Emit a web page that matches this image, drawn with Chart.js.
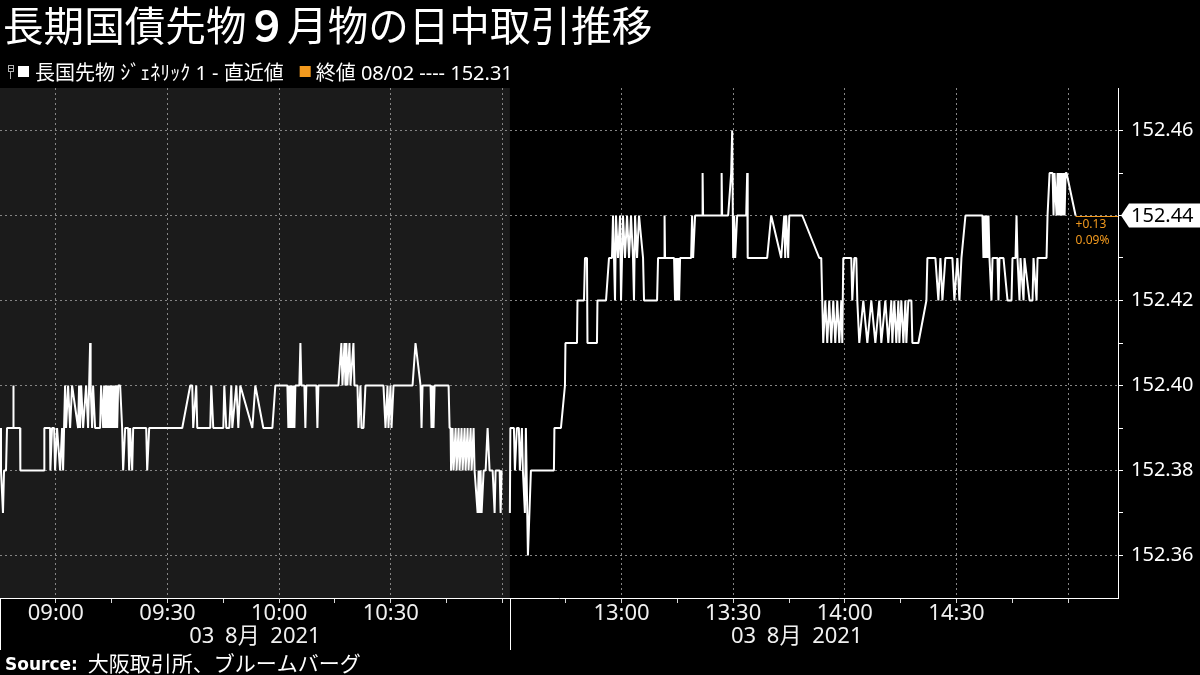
<!DOCTYPE html>
<html><head><meta charset="utf-8">
<script src="https://cdn.jsdelivr.net/npm/chart.js@4.4.1/dist/chart.umd.min.js"></script>
<style>html,body{margin:0;padding:0;background:#000;}#wrap{width:1200px;height:675px;}</style>
</head><body><div id="wrap"><canvas id="c" width="1200" height="675"></canvas></div>
<script>
// ---- text ----
const titleParts = ["長期国債先物", "９", "月物の日中取引推移"];
const seriesName = "長国先物 ｼﾞｪﾈﾘｯｸ 1 - 直近値";
const prevCloseLabel = "終値";
const prevCloseDate = "08/02";
const prevClose = 152.31;
const sessionDateLabel = "03 8月 2021";
const sourceBold = "Source:";
const sourceText = "大阪取引所、ブルームバーグ";

// ---- sessions ----
const amSession = ["08:45", "11:02"];
const pmSession = ["12:30", "15:02"];

// ---- x ticks ----
const majorTimes = ["09:00","09:30","10:00","10:30","11:00","13:00","13:30","14:00","14:30","15:00"];
const minorTimes = ["09:15","09:45","10:15","10:45","12:45","13:15","13:45","14:15","14:45"];
const labeledTimes = ["09:00","09:30","10:00","10:30","13:00","13:30","14:00","14:30"];

// ---- y ticks ----
const yTicks = [152.36,152.37,152.38,152.39,152.40,152.41,152.42,152.43,152.44,152.45,152.46];

// ---- morning session ticks ----
const amTimes = [
"08:45:00","08:45:16","08:45:48","08:46:05","08:46:37","08:46:53","08:48:30","08:48:35","08:48:40","08:50:23",
"08:50:28","08:56:50","08:56:55","08:58:27","08:58:32","08:58:59","08:59:32","08:59:48","09:00:20","09:01:09",
"09:01:41","09:01:57","09:02:29","09:02:45","09:03:18","09:03:50","09:04:22","09:05:59","09:06:15","09:06:31",
"09:06:48","09:07:20","09:08:08","09:08:40","09:08:57","09:09:13","09:09:21","09:09:45","09:10:01","09:10:33",
"09:11:54","09:12:10","09:12:43","09:12:59","09:13:15","09:13:31","09:13:47","09:14:03","09:14:19","09:14:36",
"09:14:52","09:15:08","09:15:24","09:15:40","09:15:56","09:16:12","09:16:29","09:16:45","09:17:17","09:17:49",
"09:18:05","09:18:38","09:19:26","09:19:42","09:19:58","09:20:31","09:20:47","09:24:17","09:24:33","09:25:05",
"09:33:58","09:36:07","09:36:39","09:36:55","09:37:44","09:38:00","09:41:30","09:41:46","09:42:18","09:45:00",
"09:45:16","09:45:48","09:46:37","09:47:09","09:47:25","09:48:30","09:49:02","09:49:34","09:52:48","09:53:36",
"09:55:45","09:58:11","09:58:59","10:02:13","10:02:29","10:02:45","10:03:01","10:03:17","10:03:33","10:03:50",
"10:04:06","10:04:22","10:05:26","10:05:43","10:05:59","10:06:47","10:07:03","10:07:19","10:10:01","10:10:17",
"10:10:33","10:15:56","10:16:44","10:17:01","10:17:33","10:17:49","10:18:05","10:18:21","10:18:54","10:19:10",
"10:19:58","10:20:14","10:21:03","10:21:19","10:21:51","10:22:07","10:22:40","10:23:12","10:28:02","10:28:35",
"10:29:07","10:29:23","10:29:55","10:30:12","10:30:44","10:35:51","10:36:39","10:38:00","10:38:16","10:38:32",
"10:40:41","10:40:57","10:41:13","10:41:29","10:41:46","10:45:32","10:45:48","10:46:04","10:46:12","10:46:36",
"10:46:52","10:47:25","10:47:41","10:48:13","10:48:29","10:49:01","10:49:18","10:49:50","10:50:06","10:50:38",
"10:50:54","10:51:27","10:51:43","10:52:15","10:52:31","10:53:20","10:53:36","10:53:52","10:54:08","10:54:24",
"10:54:57","10:55:29","10:56:01","10:56:33","10:57:22","10:57:54","10:58:10","10:59:15","10:59:31","10:59:47"
];
const amPrices = [
152.39,152.38,152.37,152.38,152.38,152.39,152.39,152.40,152.39,152.39,
152.38,152.38,152.39,152.39,152.38,152.39,152.39,152.38,152.39,152.38,
152.39,152.38,152.40,152.39,152.40,152.39,152.40,152.39,152.40,152.39,
152.40,152.39,152.40,152.39,152.40,152.41,152.40,152.39,152.40,152.39,
152.39,152.40,152.39,152.40,152.39,152.40,152.39,152.40,152.39,152.40,
152.39,152.40,152.39,152.40,152.39,152.40,152.39,152.40,152.40,152.39,
152.38,152.39,152.39,152.38,152.39,152.38,152.39,152.39,152.38,152.39,
152.39,152.40,152.40,152.39,152.40,152.39,152.39,152.40,152.39,152.39,
152.40,152.39,152.39,152.40,152.39,152.40,152.39,152.40,152.39,152.40,
152.39,152.39,152.40,152.40,152.39,152.40,152.39,152.40,152.39,152.40,
152.39,152.40,152.40,152.41,152.40,152.40,152.39,152.40,152.40,152.39,
152.40,152.40,152.41,152.40,152.41,152.40,152.41,152.40,152.41,152.40,
152.41,152.40,152.40,152.39,152.40,152.39,152.39,152.40,152.40,152.39,
152.40,152.39,152.40,152.39,152.40,152.40,152.41,152.40,152.39,152.40,
152.40,152.39,152.40,152.39,152.40,152.40,152.39,152.39,152.38,152.39,
152.38,152.39,152.38,152.39,152.38,152.39,152.38,152.39,152.38,152.39,
152.38,152.39,152.38,152.39,152.38,152.37,152.38,152.37,152.38,152.37,
152.38,152.38,152.39,152.38,152.38,152.37,152.38,152.38,152.37,152.38
];

// ---- afternoon session ticks ----
const pmTimes = [
"12:30:00","12:30:08","12:31:05","12:31:21","12:31:53","12:32:25","12:32:41","12:33:14","12:33:30","12:34:02",
"12:34:18","12:34:51","12:35:39","12:41:50","12:41:58","12:43:43","12:44:48","12:44:56","12:48:02","12:48:10",
"12:49:55","12:50:11","12:50:43","12:50:51","12:53:24","12:53:32","12:55:50","12:56:38","12:57:26","12:57:43",
"12:58:15","12:58:31","12:59:03","12:59:36","12:59:52","13:00:24","13:00:56","13:01:29","13:02:01","13:02:33",
"13:03:05","13:03:21","13:03:38","13:04:10","13:04:42","13:05:47","13:06:03","13:09:33","13:09:49","13:11:26",
"13:11:34","13:11:42","13:14:07","13:14:23","13:14:40","13:14:56","13:15:12","13:15:28","13:15:44","13:18:42",
"13:18:58","13:19:14","13:19:46","13:21:39","13:21:47","13:21:55","13:26:46","13:26:54","13:27:02","13:28:39",
"13:29:28","13:29:44","13:30:00","13:30:16","13:30:32","13:31:04","13:33:30","13:33:46","13:33:54","13:39:08",
"13:40:13","13:42:54","13:43:43","13:43:59","13:44:15","13:44:47","13:45:04","13:48:33","13:53:08","13:53:40",
"13:53:56","13:54:12","13:54:45","13:55:17","13:55:49","13:56:21","13:56:54","13:57:26","13:57:58","13:58:31",
"13:59:03","13:59:19","13:59:35","14:01:44","14:02:00","14:02:33","14:03:05","14:03:21","14:03:53","14:04:58",
"14:06:03","14:07:07","14:08:12","14:09:16","14:09:48","14:10:53","14:11:41","14:12:30","14:12:46","14:13:18",
"14:13:50","14:14:23","14:14:39","14:15:11","14:15:44","14:16:16","14:16:32","14:17:04","14:17:53","14:18:09",
"14:19:46","14:21:55","14:22:11","14:24:20","14:25:08","14:25:41","14:26:13","14:27:01","14:28:54","14:29:26",
"14:30:15","14:30:47","14:31:20","14:32:25","14:36:59","14:37:15","14:37:31","14:37:47","14:38:04","14:38:20",
"14:38:36","14:38:52","14:39:24","14:39:41","14:41:01","14:41:17","14:41:33","14:42:38","14:43:43","14:44:47",
"14:45:03","14:45:52","14:46:08","14:46:24","14:46:56","14:47:12","14:48:01","14:48:17","14:49:38","14:50:26",
"14:50:42","14:51:31","14:51:47","14:54:12","14:54:28","14:55:01","14:55:49","14:56:05","14:56:21","14:56:53",
"14:57:10","14:57:26","14:57:42","14:57:58","14:58:14","14:58:30","14:58:47","14:59:03","14:59:19","14:59:35","15:02:00"
];
const pmPrices = [
152.37,152.39,152.39,152.38,152.39,152.39,152.38,152.39,152.38,152.37,
152.39,152.36,152.38,152.38,152.39,152.39,152.40,152.41,152.41,152.42,
152.42,152.43,152.43,152.41,152.41,152.42,152.42,152.43,152.43,152.44,
152.42,152.44,152.43,152.44,152.42,152.44,152.43,152.44,152.43,152.44,
152.43,152.42,152.44,152.43,152.44,152.43,152.42,152.42,152.43,152.43,
152.44,152.43,152.43,152.42,152.43,152.42,152.43,152.42,152.43,152.43,
152.44,152.43,152.44,152.44,152.45,152.44,152.44,152.45,152.44,152.44,
152.45,152.46,152.43,152.44,152.43,152.44,152.44,152.45,152.43,152.43,
152.44,152.43,152.44,152.43,152.44,152.43,152.44,152.44,152.43,152.43,
152.42,152.41,152.42,152.41,152.42,152.41,152.42,152.41,152.42,152.41,
152.42,152.41,152.43,152.43,152.42,152.43,152.43,152.42,152.41,152.42,
152.41,152.42,152.41,152.42,152.41,152.42,152.41,152.42,152.41,152.42,
152.41,152.42,152.41,152.42,152.41,152.42,152.41,152.42,152.42,152.41,
152.41,152.42,152.43,152.43,152.42,152.43,152.42,152.43,152.43,152.42,
152.43,152.42,152.43,152.44,152.44,152.43,152.44,152.43,152.44,152.43,
152.44,152.43,152.42,152.43,152.43,152.42,152.43,152.43,152.42,152.42,
152.43,152.43,152.44,152.43,152.42,152.43,152.42,152.43,152.42,152.42,
152.43,152.42,152.43,152.43,152.44,152.45,152.45,152.44,152.45,152.44,
152.45,152.44,152.45,152.44,152.45,152.44,152.45,152.44,152.45,152.45,152.44
];

// ---- helpers ----
const AM_OPEN = 8*60+45, AM_LEN = 137, PM_OPEN = 12*60+30;
function sessMin(t){
  const p = t.split(':').map(Number);
  const m = p[0]*60 + p[1] + (p[2]||0)/60;
  return m < 12*60 ? m - AM_OPEN : AM_LEN + (m - PM_OPEN);
}
const allXTicks = majorTimes.concat(minorTimes).sort((a,b)=>sessMin(a)-sessMin(b));
const toPts = (ts, ps) => ts.slice(0, Math.min(ts.length, ps.length)).map((t,i)=>({x:sessMin(t), y:ps[i]}));

const GRID = '#858585';
const NUMFONT = '"Noto Sans", "Liberation Sans", sans-serif';
const MIXFONT = '"Noto Sans", "Noto Sans CJK JP", sans-serif';
const JPFONT = '"Noto Sans CJK JP", "Noto Sans", sans-serif';
const ORANGE = '#f39a1e';

const deco = {
  id: 'deco',
  beforeDraw(chart){
    const {ctx, chartArea:a, scales:{x}} = chart;
    ctx.save();
    ctx.fillStyle = '#000';
    ctx.fillRect(0, 0, chart.width, chart.height);
    const xb = x.getPixelForValue(sessMin(pmSession[0]));
    ctx.fillStyle = '#1b1b1b';
    ctx.fillRect(a.left, a.top, xb - a.left, a.bottom - a.top);
    ctx.restore();
  },
  afterDatasetsDraw(chart){
    const {ctx, chartArea:a, scales:{x,y}} = chart;
    const lastT = pmTimes[pmTimes.length-1], lastP = pmPrices[pmPrices.length-1];
    const px = x.getPixelForValue(sessMin(lastT)), py = Math.round(y.getPixelForValue(lastP)) + 0.5;
    ctx.save();
    ctx.strokeStyle = ORANGE; ctx.lineWidth = 1;
    ctx.beginPath(); ctx.moveTo(px, py); ctx.lineTo(a.right, py); ctx.stroke();
    ctx.restore();
  },
  afterDraw(chart){
    const {ctx, chartArea:a, scales:{x,y}} = chart;
    ctx.save();
    // title
    ctx.fillStyle = '#fff';
    ctx.textBaseline = 'alphabetic';
    let tx = 3;
    const tb = 41;
    const tf = '40.6px ' + JPFONT;
    ctx.font = tf; ctx.fillText(titleParts[0], tx, tb); tx += ctx.measureText(titleParts[0]).width;
    ctx.font = 'bold ' + tf; ctx.fillText(titleParts[1], tx, tb); tx += ctx.measureText(titleParts[1]).width;
    ctx.font = tf; ctx.fillText(titleParts[2], tx, tb);

    // legend
    ctx.strokeStyle = '#b0b0b0'; ctx.lineWidth = 1;
    ctx.strokeRect(8.5, 65.5, 5, 6);
    ctx.beginPath(); ctx.moveTo(8.5, 68.5); ctx.lineTo(13.5, 68.5);
    ctx.moveTo(10.5, 71.5); ctx.lineTo(10.5, 79); ctx.stroke();
    ctx.fillStyle = '#fff';
    ctx.fillRect(18, 66, 11, 11);
    ctx.font = '20px ' + MIXFONT;
    ctx.textBaseline = 'alphabetic';
    const lb = 80;
    ctx.fillText(seriesName, 35, lb);
    let lx = 35 + ctx.measureText(seriesName).width + 16;
    ctx.fillStyle = ORANGE;
    ctx.fillRect(lx, 66, 11, 11);
    lx += 16;
    ctx.fillStyle = '#fff';
    const pcText = prevCloseLabel + ' ' + prevCloseDate + ' ---- ' + prevClose.toFixed(2);
    ctx.fillText(pcText, lx, lb);

    // session separators below axis & date labels
    const xs = x.getPixelForValue(sessMin(amSession[0]));
    const xb = x.getPixelForValue(sessMin(pmSession[0]));
    const xe = x.getPixelForValue(sessMin(pmSession[1]));
    ctx.strokeStyle = '#fff'; ctx.lineWidth = 1;
    ctx.beginPath();
    ctx.moveTo(Math.max(xs, 0) + 0.5, a.bottom); ctx.lineTo(Math.max(xs, 0) + 0.5, 650);
    ctx.moveTo(Math.round(xb) + 0.5, a.bottom); ctx.lineTo(Math.round(xb) + 0.5, 650);
    ctx.stroke();
    ctx.fillStyle = '#f0f0f0';
    ctx.font = '22px ' + MIXFONT;
    ctx.textAlign = 'center'; ctx.textBaseline = 'middle';
    try { ctx.wordSpacing = '5px'; } catch(e) {}
    ctx.fillText(sessionDateLabel, (xs + xb) / 2, 637);
    ctx.fillText(sessionDateLabel, (xb + xe) / 2 + 4, 637);
    try { ctx.wordSpacing = '0px'; } catch(e) {}

    // source
    ctx.textAlign = 'left'; ctx.textBaseline = 'alphabetic';
    ctx.fillStyle = '#fff';
    ctx.font = 'bold 17px "DejaVu Sans", sans-serif';
    ctx.fillText(sourceBold, 5, 670);
    const sw = ctx.measureText(sourceBold).width;
    ctx.font = '21px ' + JPFONT;
    ctx.fillText(sourceText, 5 + sw + 10, 671);

    // last value box
    const lastP = pmPrices[pmPrices.length-1];
    const ly = y.getPixelForValue(lastP);
    ctx.fillStyle = '#fff';
    ctx.beginPath();
    ctx.moveTo(a.right + 3, ly);
    ctx.lineTo(a.right + 11, ly - 12);
    ctx.lineTo(chart.width, ly - 12);
    ctx.lineTo(chart.width, ly + 12);
    ctx.lineTo(a.right + 11, ly + 12);
    ctx.closePath(); ctx.fill();
    ctx.fillStyle = '#000';
    ctx.font = '20px ' + NUMFONT;
    ctx.textBaseline = 'middle';
    ctx.fillText(lastP.toFixed(2), a.right + 13, ly + 1);

    // change text
    const lastT = pmTimes[pmTimes.length-1];
    const px = x.getPixelForValue(sessMin(lastT));
    const chg = lastP - prevClose;
    const pct = chg / prevClose * 100;
    ctx.fillStyle = ORANGE;
    ctx.font = '12px ' + NUMFONT;
    ctx.textBaseline = 'middle';
    ctx.fillText((chg >= 0 ? '+' : '') + chg.toFixed(2), px, ly + 9);
    ctx.fillText(pct.toFixed(2) + '%', px, ly + 25);
    ctx.restore();
  }
};

const lineStyle = {borderColor:'#ffffff', borderWidth:2, pointRadius:0, pointHoverRadius:0, tension:0, fill:false, borderJoinStyle:'bevel'};

new Chart(document.getElementById('c'), {
  type: 'line',
  data: {
    datasets: [
      Object.assign({label: seriesName, data: toPts(amTimes, amPrices)}, lineStyle),
      Object.assign({label: seriesName, data: toPts(pmTimes, pmPrices)}, lineStyle)
    ]
  },
  options: {
    responsive: false,
    animation: false,
    events: [],
    layout: {padding: {left: 0, right: 0, top: 88, bottom: 0}},
    plugins: {legend: {display: false}, tooltip: {enabled: false}, title: {display: false}},
    scales: {
      x: {
        type: 'linear', position: 'bottom', min: 0, max: 300.4,
        afterBuildTicks: s => { s.ticks = allXTicks.map(t => ({value: sessMin(t)})); },
        afterFit: s => { s.height = 77; },
        ticks: {
          autoSkip: false, maxRotation: 0, minRotation: 0, padding: 0,
          color: '#f0f0f0', font: {family: NUMFONT, size: 22, lineHeight: 1},
          callback: (v, i) => labeledTimes.includes(allXTicks[i]) ? allXTicks[i] : ''
        },
        grid: {
          color: c => majorTimes.includes(allXTicks[c.index]) ? GRID : 'rgba(0,0,0,0)',
          lineWidth: 1, drawTicks: true, tickLength: 5, tickColor: '#d8d8d8', tickWidth: 1, tickBorderDash: []
        },
        border: {display: true, color: '#ffffff', width: 1, dash: [2, 3]}
      },
      y: {
        type: 'linear', position: 'right', min: 152.35, max: 152.47,
        afterBuildTicks: s => { s.ticks = yTicks.map(v => ({value: v})); },
        afterFit: s => { s.width = 82; },
        ticks: {
          autoSkip: false, padding: 8, color: '#ffffff',
          font: {family: NUMFONT, size: 20},
          callback: v => (Math.round(v * 100) % 2 === 0) ? v.toFixed(2) : ''
        },
        grid: {
          color: c => (c.index % 2 === 0) ? GRID : 'rgba(0,0,0,0)',
          lineWidth: 1, drawTicks: true, tickLength: 5, tickColor: '#ffffff', tickWidth: 1, tickBorderDash: []
        },
        border: {display: true, color: '#ffffff', width: 1, dash: [2, 3]}
      }
    }
  },
  plugins: [deco]
});
</script>
</body></html>
